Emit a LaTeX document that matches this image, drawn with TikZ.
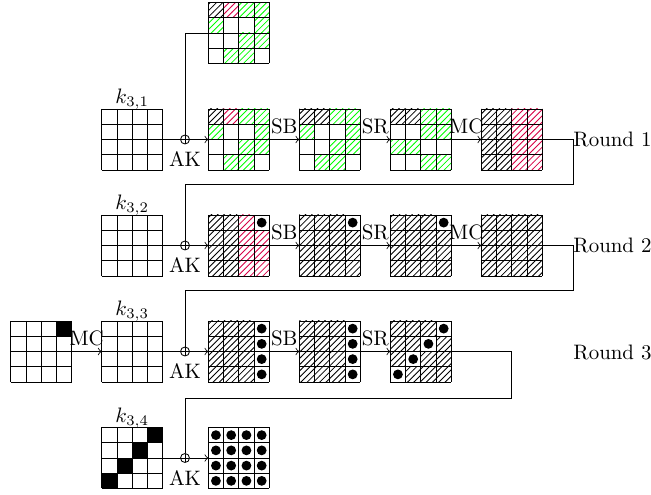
\documentclass[tikz,border=0pt]{standalone}
\usetikzlibrary{patterns}
\definecolor{hgreen}{RGB}{0,255,0}
\definecolor{hred}{RGB}{215,0,70}
\tikzset{
  cell w/.style={},
  cell k/.style={pattern=north east lines,pattern color=black},
  cell g/.style={pattern=north east lines,pattern color=hgreen},
  cell r/.style={pattern=north east lines,pattern color=hred},
  cell B/.style={fill=black},
  cell d/.style={fill=white,path picture={\fill[black] (path picture bounding box.center) circle[radius=4.9];}},
  gridbox/.style={inner sep=0pt,outer sep=0pt,minimum size=61*0.4785pt},
  xor/.style={circle,draw,inner sep=0pt,outer sep=0pt,minimum size=9*0.4785pt,
    path picture={\draw (path picture bounding box.north)--(path picture bounding box.south)
      (path picture bounding box.west)--(path picture bounding box.east);}},
  oplabel/.style={above,inner sep=2.5pt},
  aklabel/.style={below,inner sep=3.5pt},
  klabel/.style={above,inner sep=0pt,yshift=-0.6pt},
  roundlabel/.style={right,inner sep=0pt},
}
\newcommand\drawgrid[4]{%
  \foreach \cc [count=\i from 0] in {#4} {
    \pgfmathsetmacro\cx{#2+mod(\i,4)*15.25}
    \pgfmathsetmacro\cy{#3+int(\i/4)*15.25}
    \path[cell \cc] (\cx,\cy) rectangle ++(15.25,15.25);
  }
  \foreach \j in {0,...,4} {
    \draw (#2+\j*15.25,#3) -- ++(0,61);
    \draw (#2,#3+\j*15.25) -- ++(61,0);
  }
  \node[gridbox] (#1) at (#2+30.5,#3+30.5) {};
}
\begin{document}
\begin{tikzpicture}[x=0.4785pt,y=-0.4785pt,>=to]
\useasboundingbox (0,0) rectangle (651,495);
% ---------- Round 1
\drawgrid{top}{208.3}{2.5}{k,r,g,g,g,w,w,g,w,w,g,g,w,g,g,w}
\drawgrid{key1}{101.7}{109}{w,w,w,w,w,w,w,w,w,w,w,w,w,w,w,w}
\drawgrid{ak1}{208.3}{109}{k,r,g,g,g,w,w,g,w,w,g,g,w,g,g,w}
\drawgrid{sb1}{299.3}{109}{k,k,g,g,g,w,w,g,w,w,g,g,w,g,g,w}
\drawgrid{sr1}{390.3}{109}{k,k,g,g,w,w,g,g,g,g,w,w,w,w,g,g}
\drawgrid{mc1}{481.3}{109}{k,k,r,r,k,k,r,r,k,k,r,r,k,k,r,r}
\node[klabel] (lk1) at (key1.north) {$k_{3,1}$};
\node[xor] (x1) at (185,139.5) {};
\node[aklabel] (a1) at (x1.south) {AK};
\node[roundlabel] (r1) at (573,139.5) {Round 1};
\draw (key1.east) -- (x1.west);
\draw[->] (x1.east) -- (ak1.west);
\draw (x1.north) |- (top.west);
\draw[->] (ak1.east) -- node[oplabel]{SB} (sb1.west);
\draw[->] (sb1.east) -- node[oplabel]{SR} (sr1.west);
\draw[->] (sr1.east) -- node[oplabel]{MC} (mc1.west);
\draw (mc1.east) -- (r1.west);
% ---------- Round 2
\drawgrid{key2}{101.7}{215}{w,w,w,w,w,w,w,w,w,w,w,w,w,w,w,w}
\drawgrid{ak2}{208.3}{215}{k,k,r,d,k,k,r,r,k,k,r,r,k,k,r,r}
\drawgrid{sb2}{299.3}{215}{k,k,k,d,k,k,k,k,k,k,k,k,k,k,k,k}
\drawgrid{sr2}{390.3}{215}{k,k,k,d,k,k,k,k,k,k,k,k,k,k,k,k}
\drawgrid{mc2}{481.3}{215}{k,k,k,k,k,k,k,k,k,k,k,k,k,k,k,k}
\node[klabel] (lk2) at (key2.north) {$k_{3,2}$};
\node[xor] (x2) at (185,245.5) {};
\node[aklabel] (a2) at (x2.south) {AK};
\node[roundlabel] (r2) at (573,245.5) {Round 2};
\draw (r1.west) -- ++(0,44.8) -| (x2.north);
\draw (key2.east) -- (x2.west);
\draw[->] (x2.east) -- (ak2.west);
\draw[->] (ak2.east) -- node[oplabel]{SB} (sb2.west);
\draw[->] (sb2.east) -- node[oplabel]{SR} (sr2.west);
\draw[->] (sr2.east) -- node[oplabel]{MC} (mc2.west);
\draw (mc2.east) -- (r2.west);
% ---------- Round 3
\drawgrid{m3}{10.7}{321}{w,w,w,B,w,w,w,w,w,w,w,w,w,w,w,w}
\drawgrid{key3}{101.7}{321}{w,w,w,w,w,w,w,w,w,w,w,w,w,w,w,w}
\drawgrid{ak3}{208.3}{321}{k,k,k,d,k,k,k,d,k,k,k,d,k,k,k,d}
\drawgrid{sb3}{299.3}{321}{k,k,k,d,k,k,k,d,k,k,k,d,k,k,k,d}
\drawgrid{sr3}{390.3}{321}{k,k,k,d,k,k,d,k,k,d,k,k,d,k,k,k}
\node[klabel] (lk3) at (key3.north) {$k_{3,3}$};
\node[xor] (x3) at (185,351.5) {};
\node[aklabel] (a3) at (x3.south) {AK};
\node[roundlabel] (r3) at (573,352) {Round 3};
\draw (r2.west) -- ++(0,45.2) -| (x3.north);
\draw[->] (m3.east) -- node[oplabel]{MC} (key3.west);
\draw (key3.east) -- (x3.west);
\draw[->] (x3.east) -- (ak3.west);
\draw[->] (ak3.east) -- node[oplabel]{SB} (sb3.west);
\draw[->] (sb3.east) -- node[oplabel]{SR} (sr3.west);
% ---------- Final
\drawgrid{key4}{101.7}{427.5}{w,w,w,B,w,w,B,w,w,B,w,w,B,w,w,w}
\drawgrid{fin}{208.3}{427.5}{d,d,d,d,d,d,d,d,d,d,d,d,d,d,d,d}
\node[klabel] (lk4) at (key4.north) {$k_{3,4}$};
\node[xor] (x4) at (185,458) {};
\node[aklabel] (a4) at (x4.south) {AK};
\draw (sr3.east) -- ++(60.3,0) coordinate (c3) -- ++(0,46.8) -| (x4.north);
\draw (key4.east) -- (x4.west);
\draw[->] (x4.east) -- (fin.west);
\end{tikzpicture}
\end{document}
